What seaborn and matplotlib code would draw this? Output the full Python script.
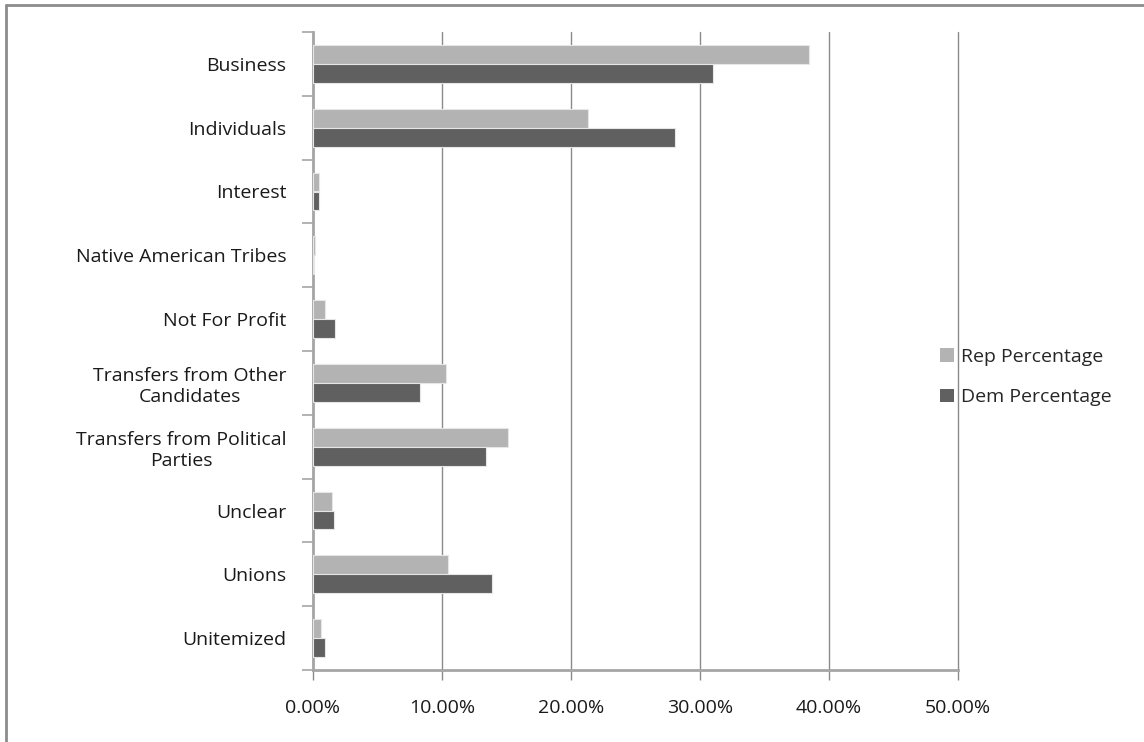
import matplotlib
matplotlib.use("Agg")
import matplotlib.pyplot as plt
import matplotlib.lines as mlines
import matplotlib.patches as mpatches
import seaborn as sns
import pandas as pd

categories = ["Business", "Individuals", "Interest", "Native American Tribes",
              "Not For Profit", "Transfers from Other\nCandidates",
              "Transfers from Political\nParties", "Unclear", "Unions", "Unitemized"]
rep_pct = [38.45, 21.3, 0.45, 0.15, 0.93, 10.3, 15.1, 1.45, 10.5, 0.65]
dem_pct = [31.0, 28.1, 0.45, 0.05, 1.73, 8.3, 13.4, 1.65, 13.85, 0.95]
series = ["Rep Percentage", "Dem Percentage"]
xticks = [0, 10, 20, 30, 40, 50]
xtick_labels = ["0.00%", "10.00%", "20.00%", "30.00%", "40.00%", "50.00%"]
title = "percentage of each party got from each type of contribution in the cycle"

rows = []
for c, r, d in zip(categories, rep_pct, dem_pct):
    rows.append({"cat": c, "series": series[0], "val": r})
    rows.append({"cat": c, "series": series[1], "val": d})
df = pd.DataFrame(rows)

sns.set_theme(style="white")
plt.rcParams["font.family"] = ["Open Sans", "DejaVu Sans"]

W, H = 1144, 742
fig = plt.figure(figsize=(W / 100, H / 100), dpi=100)
ax = fig.add_axes([313 / W, 1 - 670 / H, (958 - 313) / W, (670 - 32) / H])

colors = {"Rep Percentage": "#b3b3b3", "Dem Percentage": "#606060"}
sns.barplot(data=df, y="cat", x="val", hue="series", order=categories,
            hue_order=series, palette=colors, orient="h", width=0.59,
            edgecolor="#e6e6e6", linewidth=0.8, ax=ax, legend=False, zorder=3)

ax.set_xlim(0, 50)
ax.set_ylim(len(categories) - 0.5, -0.5)
ax.set_xticks(xticks)
ax.set_xticklabels(xtick_labels)
ax.set_xlabel("")
ax.set_ylabel("")
ax.xaxis.grid(True, color="#8a8a8a", linewidth=1.0, zorder=0)
ax.yaxis.grid(False)
ax.set_axisbelow(True)
for gl in ax.get_xgridlines():
    gl.set_clip_on(False)

for s in ["top", "right"]:
    ax.spines[s].set_visible(False)
for s in ["left", "bottom"]:
    ax.spines[s].set_color("#a6a6a6")
    ax.spines[s].set_linewidth(2.0)

# y ticks at category boundaries
ax.set_yticks(range(len(categories)))
ax.set_yticklabels(categories, fontsize=14, color="#1a1a1a", multialignment="center")
ax.tick_params(axis="y", length=0, pad=19)
ax.set_yticks([i - 0.5 for i in range(len(categories) + 1)], minor=True)
ax.tick_params(axis="y", which="minor", length=8, width=1.2, color="#a6a6a6", left=True)
ax.tick_params(axis="x", length=7, width=1.0, color="#8a8a8a", bottom=True,
               labelsize=14, labelcolor="#1a1a1a", pad=14)

handles = [mpatches.Patch(facecolor=colors[s], edgecolor="none", label=s) for s in series]
fig.legend(handles=handles, loc="center left", bbox_to_anchor=(940 / W, 1 - 377 / H),
           frameon=False, fontsize=14, handlelength=0.7, handleheight=0.7,
           handletextpad=0.4, labelspacing=1.15, borderpad=0, borderaxespad=0)

# outer frame (chart area border)
fig.add_artist(mlines.Line2D([6 / W, 6 / W], [0, 1 - 5 / H], color="#8c8c8c", linewidth=2))
fig.add_artist(mlines.Line2D([6 / W, 1], [1 - 5 / H, 1 - 5 / H], color="#8c8c8c", linewidth=2))

# title clipped at the top edge, as in the reference
fig.text(2 / W, 1 + 1 / H, title, fontsize=18, va="bottom", ha="left", color="#000000")

fig.savefig("out.png", dpi=100)
